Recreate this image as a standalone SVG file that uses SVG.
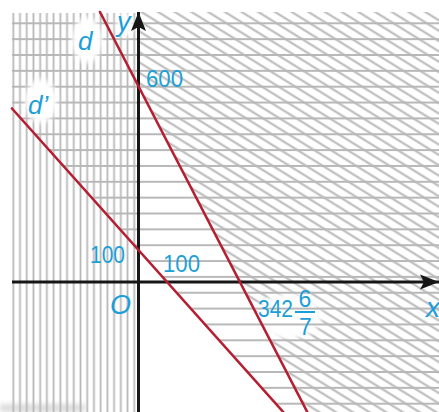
<svg xmlns="http://www.w3.org/2000/svg" width="439" height="412" viewBox="0 0 439 412">
  <style>
    .lbl { font-family: "Liberation Sans", Arial, sans-serif; fill: #1c9fd8; }
    .it { font-style: italic; }
    .red { stroke: #b51f32; stroke-width: 2.6; fill: none; stroke-linecap: round; }
    .axis { stroke: #161616; stroke-width: 3; fill: none; }
    .hatch { fill: #b7b7b7; }
  </style>
  <defs>
    <pattern id="pv" patternUnits="userSpaceOnUse" width="6.72" height="20" patternTransform="translate(9.94 0)">
      <rect class="hatch" x="2.46" y="0" width="1.8" height="20"/>
    </pattern>
    <pattern id="ph" patternUnits="userSpaceOnUse" width="20" height="15.85" patternTransform="translate(0 15.375)">
      <rect class="hatch" x="0" y="6.95" width="20" height="1.95"/>
    </pattern>
    <pattern id="pd" patternUnits="userSpaceOnUse" width="50" height="8.8" patternTransform="translate(225 12) rotate(31.8) translate(0 -4.4)">
      <rect class="hatch" x="0" y="3.4" width="50" height="2.0"/>
    </pattern>
    <clipPath id="cv"><rect x="11" y="13" width="127" height="399"/></clipPath>
    <clipPath id="ch"><polygon points="12,12 439,12 439,412 283.3,412 12,108.5"/></clipPath>
    <clipPath id="cd"><polygon points="139,12 439,12 439,412 307.3,412 138.3,85.9"/></clipPath>
    <filter id="soft" x="-50%" y="-50%" width="200%" height="200%"><feGaussianBlur stdDeviation="2.5"/></filter>
    <mask id="halo" maskUnits="userSpaceOnUse" x="0" y="0" width="439" height="412">
      <rect x="0" y="0" width="439" height="412" fill="#fff"/>
      <ellipse cx="289" cy="316" rx="33" ry="23" fill="#000" filter="url(#soft)"/>
    </mask>
    <marker id="arr" markerUnits="userSpaceOnUse" markerWidth="24" markerHeight="20" viewBox="-20 -10 22 20" refX="0" refY="0" orient="auto">
      <path d="M0,0 L-19,-7.5 L-15,0 L-19,7.5 Z" fill="#161616"/>
    </marker>
  </defs>

  <rect x="0" y="0" width="439" height="412" fill="#fff"/>
  <rect x="0" y="404" width="85" height="8" fill="#dcdcdc" filter="url(#soft)"/>

  <g id="hatching">
    <rect x="0" y="0" width="439" height="412" fill="url(#pv)" clip-path="url(#cv)"/>
    <rect x="0" y="0" width="439" height="412" fill="url(#ph)" clip-path="url(#ch)"/>
    <g mask="url(#halo)">
      <rect x="0" y="0" width="439" height="412" fill="url(#pd)" clip-path="url(#cd)"/>
    </g>
  </g>

  <g id="blobs" fill="#fff" filter="url(#soft)">
    <ellipse cx="87" cy="40" rx="15" ry="23"/>
    <ellipse cx="41" cy="101" rx="16" ry="22"/>
    <ellipse cx="125" cy="25" rx="9" ry="12"/>
  </g>

  <g id="axes">
    <line class="axis" x1="12" y1="282" x2="439" y2="282" marker-end="url(#arr)"/>
    <line class="axis" x1="138.5" y1="412" x2="138.5" y2="12" marker-end="url(#arr)"/>
  </g>

  <g id="connectors">
    <line id="d" class="red" x1="100" y1="12" x2="307.3" y2="412"/>
    <line id="d-prime" class="red" x1="12" y1="108.5" x2="283.3" y2="412"/>
  </g>

  <g id="labels">
    <text class="lbl it" x="117" y="31" font-size="27">y</text>
    <text class="lbl it" x="78" y="50" font-size="26">d</text>
    <text class="lbl it" x="28" y="114" font-size="26">d’</text>
    <text class="lbl" x="146" y="87" font-size="24" textLength="37" lengthAdjust="spacingAndGlyphs">600</text>
    <text class="lbl" x="90" y="263" font-size="24" textLength="35" lengthAdjust="spacingAndGlyphs">100</text>
    <text class="lbl" x="163" y="272" font-size="24" textLength="37" lengthAdjust="spacingAndGlyphs">100</text>
    <text class="lbl it" x="110" y="314" font-size="27">O</text>
    <text class="lbl" x="258" y="317" font-size="24" textLength="35" lengthAdjust="spacingAndGlyphs">342</text>
    <text class="lbl" x="298.5" y="307" font-size="23">6</text>
    <line x1="295" y1="312" x2="315" y2="312" stroke="#1c9fd8" stroke-width="2"/>
    <text class="lbl" x="299" y="335" font-size="23">7</text>
    <text class="lbl it" x="426" y="317" font-size="28">x</text>
  </g>
</svg>
